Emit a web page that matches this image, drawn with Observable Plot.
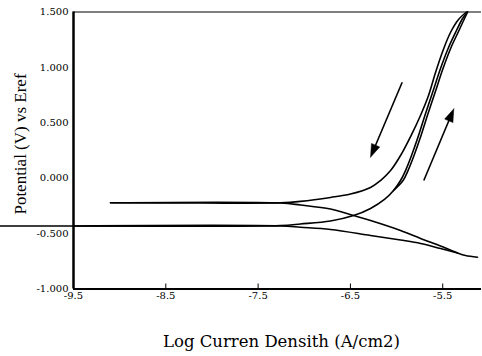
<!DOCTYPE html>
<html><head><meta charset="utf-8">
<script src="https://cdn.jsdelivr.net/npm/d3@7"></script>
<script src="https://cdn.jsdelivr.net/npm/@observablehq/plot@0.6"></script>
<style>
html,body{margin:0;padding:0;background:#fff;}
svg text{font-family:"DejaVu Serif",serif;}
svg text.ytitle{font-family:"Liberation Serif",serif;}
</style></head><body><div id="chart"></div>
<script>
// Axes
const xTicks = [-9.5, -8.5, -7.5, -6.5, -5.5];
const yTicks = [-1, -0.5, 0, 0.5, 1, 1.5];
const xDomain = [-9.5, -5.08];
const yDomain = [-1, 1.5];
const xTitle = "Log Curren Densith (A/cm2)";
const yTitle = "Potential (V) vs Eref";

// Reverse scan from upper plateau, rising to the top
const revUpX = [-9.099, -8.124, -7.257, -7.041, -6.716, -6.499, -6.282, -6.174, -6.065, -5.957, -5.843, -5.741, -5.654, -5.578, -5.497, -5.416, -5.329, -5.242];
const revUpY = [-0.222, -0.224, -0.222, -0.209, -0.174, -0.143, -0.084, -0.021, 0.069, 0.205, 0.385, 0.566, 0.746, 0.954, 1.153, 1.315, 1.432, 1.5];
// Upper plateau falling to cathodic tail
const revDownX = [-9.099, -7.257, -7.041, -6.716, -6.466, -6.282, -5.957, -5.740, -5.524, -5.340, -5.253, -5.123];
const revDownY = [-0.222, -0.224, -0.242, -0.278, -0.337, -0.382, -0.472, -0.544, -0.612, -0.675, -0.698, -0.713];
// Forward scan from lower plateau, rising to the top
const fwdUpX = [-10.291, -9.5, -8.449, -7.257, -7.041, -6.716, -6.466, -6.282, -6.131, -6.033, -5.957, -5.903, -5.838, -5.762, -5.686, -5.610, -5.524, -5.437, -5.351, -5.285, -5.231];
const fwdUpY = [-0.431, -0.431, -0.434, -0.427, -0.413, -0.386, -0.337, -0.273, -0.192, -0.111, -0.021, 0.069, 0.205, 0.385, 0.584, 0.773, 0.990, 1.180, 1.333, 1.441, 1.5];
// Second trace close beside the forward scan
const fwdUp2X = [-6.033, -5.930, -5.876, -5.811, -5.735, -5.659, -5.583, -5.497, -5.410, -5.324, -5.264, -5.231];
const fwdUp2Y = [-0.111, -0.021, 0.069, 0.205, 0.385, 0.584, 0.773, 0.990, 1.180, 1.333, 1.441, 1.5];
// Lower plateau falling to cathodic tail
const fwdDownX = [-9.5, -7.257, -7.041, -6.716, -6.282, -5.957, -5.740, -5.524, -5.340];
const fwdDownY = [-0.431, -0.431, -0.443, -0.463, -0.517, -0.558, -0.589, -0.635, -0.675];

// Direction arrows: [x start, y start, x tip, y tip]
const arrowDown = [-5.939, 0.866, -6.282, 0.190];
const arrowUp = [-5.705, -0.021, -5.380, 0.626];

const W = 482, H = 356;
const mt = 11.5, mb = 67.5, ml = 73, mr = 1;
const kx = (W - ml - mr) / (xDomain[1] - xDomain[0]);
const ky = (H - mt - mb) / (yDomain[1] - yDomain[0]);

const curves = [
  ["revUp", revUpX, revUpY],
  ["revDown", revDownX, revDownY],
  ["fwdUp", fwdUpX, fwdUpY],
  ["fwdUp2", fwdUp2X, fwdUp2Y],
  ["fwdDown", fwdDownX, fwdDownY]
].flatMap(([name, xs, ys]) => xs.map((x, i) => ({name, x, y: ys[i]})));

const headLen = 13, headHalf = 4.5;
const arrows = [["a", arrowDown], ["b", arrowUp]];
const shafts = [], heads = [];
for (const [name, [x1, y1, x2, y2]] of arrows) {
  const dxp = (x2 - x1) * kx, dyp = (y2 - y1) * ky;
  const L = Math.hypot(dxp, dyp);
  const ux = dxp / L, uy = dyp / L;
  const bx = x2 - ux * headLen / kx, by = y2 - uy * headLen / ky;
  shafts.push({name, x1, y1, x2: bx + ux * 2 / kx, y2: by + uy * 2 / ky});
  heads.push({name, x: x2, y: y2});
  heads.push({name, x: bx - uy * headHalf / kx, y: by + ux * headHalf / ky});
  heads.push({name, x: bx + uy * headHalf / kx, y: by - ux * headHalf / ky});
  heads.push({name, x: x2, y: y2});
}

const chart = Plot.plot({
  width: W, height: H,
  marginTop: mt, marginBottom: mb, marginLeft: ml, marginRight: mr,
  style: {fontFamily: "'DejaVu Serif', serif", fontSize: "10px", color: "black", background: "white"},
  x: {domain: xDomain, ticks: xTicks, tickFormat: d => d.toFixed(1), tickSize: 0, tickPadding: 3, label: null},
  y: {domain: yDomain, ticks: yTicks, tickFormat: d => d.toFixed(3), tickSize: 0, tickPadding: 5, label: null},
  marks: [
    Plot.ruleY([yDomain[1]], {stroke: "black", strokeWidth: 1}),
    Plot.ruleY([yDomain[0]], {stroke: "black", strokeWidth: 2}),
    Plot.ruleX([xDomain[0]], {stroke: "black", strokeWidth: 2.5}),
    Plot.ruleX(xTicks.slice(1), {x: d => d, stroke: "black", strokeWidth: 1, insetTop: H - mt - mb - 5}),
    Plot.line(curves, {x: "x", y: "y", z: "name", stroke: "black", strokeWidth: 1.6, curve: "catmull-rom"}),
    Plot.link(shafts, {x1: "x1", y1: "y1", x2: "x2", y2: "y2", stroke: "black", strokeWidth: 1.6}),
    Plot.line(heads, {x: "x", y: "y", z: "name", fill: "black", stroke: "black", strokeWidth: 0.5}),
    Plot.text([xTitle], {text: d => d, frameAnchor: "bottom", textAnchor: "middle", lineAnchor: "middle", dy: 53, dx: 4, fontSize: 16.5}),
    Plot.text([yTitle], {text: d => d, frameAnchor: "left", textAnchor: "middle", lineAnchor: "middle", dx: -53, dy: -6.5, rotate: -90, fontSize: 17})
  ]
});
// mark the y title text for its font
chart.querySelectorAll("text").forEach(t => { if (t.textContent === yTitle) t.classList.add("ytitle"); });
document.getElementById("chart").appendChild(chart);
</script>
</body></html>
